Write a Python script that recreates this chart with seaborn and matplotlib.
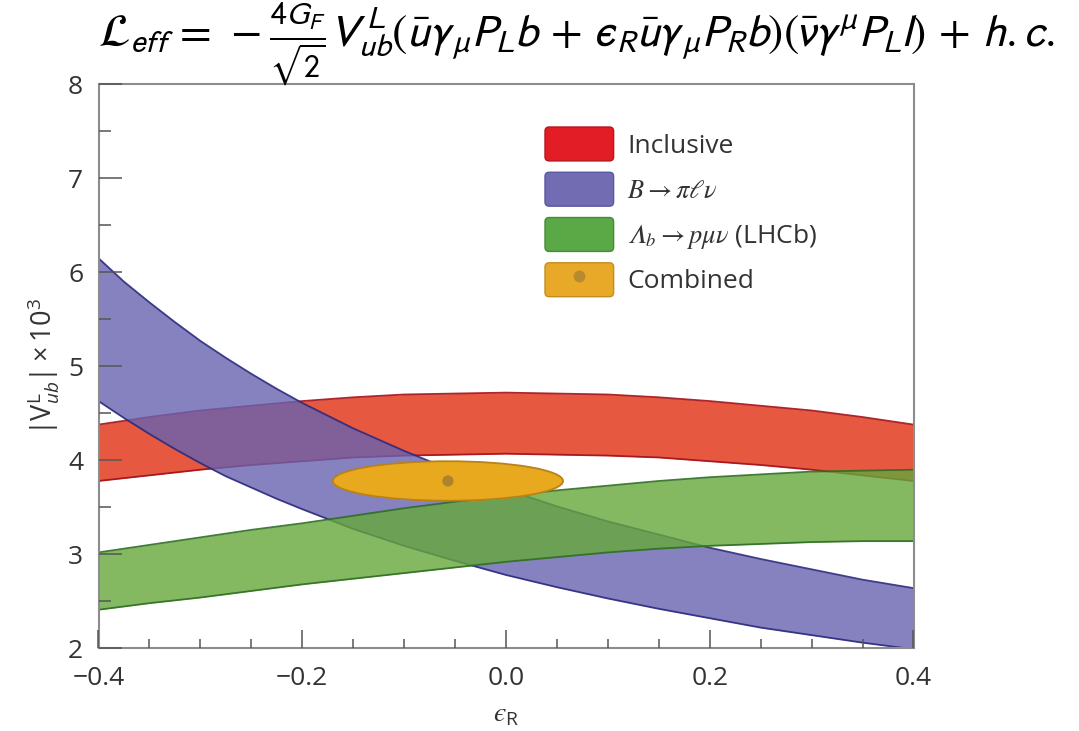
import numpy as np
import pandas as pd
import matplotlib
matplotlib.use("Agg")
import matplotlib.pyplot as plt
import seaborn as sns
from matplotlib.patches import Ellipse, Patch, FancyBboxPatch
from matplotlib.lines import Line2D
from matplotlib.legend_handler import HandlerPatch
from matplotlib.ticker import MultipleLocator, FuncFormatter

# epsilon_R grid and |V_ub^L| x 10^3 band edges
eps = [-0.40, -0.35, -0.30, -0.25, -0.20, -0.15, -0.10, -0.05, 0.00,
       0.05, 0.10, 0.15, 0.20, 0.25, 0.30, 0.35, 0.40]

incl_hi = [4.38, 4.46, 4.53, 4.58, 4.63, 4.67, 4.70, 4.71, 4.72,
           4.71, 4.70, 4.67, 4.63, 4.58, 4.53, 4.46, 4.38]
incl_lo = [3.78, 3.84, 3.90, 3.95, 3.99, 4.03, 4.05, 4.06, 4.07,
           4.06, 4.05, 4.03, 3.99, 3.95, 3.90, 3.84, 3.78]

# the B -> pi l nu band bends strongly on the left, so it is sampled finer there
eps_bpi = [-0.400, -0.375, -0.350, -0.325, -0.300, -0.275, -0.250, -0.225, -0.200,
           -0.15, -0.10, -0.05, 0.00, 0.05, 0.10, 0.15, 0.20, 0.25, 0.30, 0.35, 0.40]
bpi_hi = [6.15, 5.90, 5.68, 5.47, 5.27, 5.09, 4.92, 4.76, 4.61,
          4.34, 4.10, 3.88, 3.69, 3.51, 3.35, 3.21, 3.07, 2.95, 2.84, 2.73, 2.64]
bpi_lo = [4.63, 4.45, 4.28, 4.12, 3.97, 3.83, 3.71, 3.59, 3.48,
          3.27, 3.09, 2.93, 2.78, 2.65, 2.53, 2.42, 2.32, 2.22, 2.14, 2.06, 1.99]

lhcb_hi = [3.02, 3.10, 3.18, 3.26, 3.33, 3.41, 3.49, 3.56, 3.62,
           3.68, 3.73, 3.78, 3.82, 3.85, 3.88, 3.89, 3.90]
lhcb_lo = [2.41, 2.48, 2.54, 2.61, 2.68, 2.74, 2.80, 2.86, 2.92,
           2.97, 3.02, 3.06, 3.09, 3.11, 3.13, 3.14, 3.14]

# combined fit: best point and 1-sigma half widths
comb_center = [-0.057, 3.78]
comb_halfwidth = [0.113, 0.21]

labels = ["Inclusive", r"$B \to \pi\ell\nu$",
          "$\U0001D6EC_b \\to p\\mu\\nu$ (LHCb)", "Combined"]

sns.set_theme(style="white")
plt.rcParams["font.family"] = ["Open Sans", "DejaVu Sans"]
plt.rcParams["mathtext.fontset"] = "custom"
plt.rcParams["mathtext.rm"] = "Open Sans"
plt.rcParams["mathtext.it"] = "Open Sans:italic"
plt.rcParams["mathtext.bf"] = "Open Sans:bold"
plt.rcParams["axes.unicode_minus"] = True

df_main = pd.DataFrame({"eps": eps,
                        "incl_lo": incl_lo, "incl_hi": incl_hi,
                        "lhcb_lo": lhcb_lo, "lhcb_hi": lhcb_hi})
df_bpi = pd.DataFrame({"eps": eps_bpi, "bpi_lo": bpi_lo, "bpi_hi": bpi_hi})

fig = plt.figure(figsize=(10.79, 7.31), dpi=100)
ax = fig.add_axes([98.5 / 1079, 1 - 648.3 / 731, 815 / 1079, 564 / 731])

bands = [
    (df_main, "incl", "#E22E10", "#A3101A", 1),
    (df_bpi, "bpi", "#6862B0", "#2B2A7E", 2),
    (df_main, "lhcb", "#65A83B", "#2E6E23", 3),
]
for data, key, fill, edge, z in bands:
    ax.fill_between(data["eps"], data[f"{key}_lo"], data[f"{key}_hi"],
                    color=fill, alpha=0.8, lw=0, zorder=z)
    for side in ("lo", "hi"):
        sns.lineplot(data=data, x="eps", y=f"{key}_{side}", ax=ax, color=edge,
                     lw=1.3, alpha=0.9, zorder=z + 0.1, legend=False)

ax.add_patch(Ellipse((comb_center[0], comb_center[1]),
                     2 * comb_halfwidth[0], 2 * comb_halfwidth[1],
                     facecolor="#E8A91E", edgecolor="#B98218", lw=1.3, zorder=4))
sns.scatterplot(x=[comb_center[0]], y=[comb_center[1]], ax=ax, s=65,
                color="#B0822E", edgecolor="none", zorder=5, legend=False)

ax.set_xlim(-0.4, 0.4)
ax.set_ylim(2, 8)
ax.xaxis.set_major_locator(MultipleLocator(0.2))
ax.xaxis.set_minor_locator(MultipleLocator(0.05))
ax.yaxis.set_major_locator(MultipleLocator(1))
ax.yaxis.set_minor_locator(MultipleLocator(0.5))
ax.xaxis.set_major_formatter(FuncFormatter(
    lambda v, p: f"{v:.1f}".replace("-", "\u2212") if abs(v) > 1e-9 else "0.0"))
ax.yaxis.set_major_formatter(FuncFormatter(lambda v, p: f"{v:.0f}"))

ax.tick_params(axis="x", which="both", direction="in", bottom=True, top=False,
               color="#555555", width=1.1, labelsize=19, labelcolor="#333333", pad=13)
ax.tick_params(axis="x", which="major", length=13)
ax.tick_params(axis="x", which="minor", length=6.5)
ax.tick_params(axis="y", which="both", direction="in", left=True, right=False,
               color="#555555", width=1.1, labelsize=19, labelcolor="#333333", pad=11)
ax.tick_params(axis="y", which="major", length=16.5)
ax.tick_params(axis="y", which="minor", length=8.6)
ax.xaxis.set_zorder(10)
ax.yaxis.set_zorder(10)
for s in ax.spines.values():
    s.set_visible(True)
    s.set_color("#8C8C8C")
    s.set_linewidth(1.5)
    s.set_zorder(10)

ax.set_xlabel("$\u03f5_{\\mathrm{R}}$", fontsize=20, color="#333333")
ax.xaxis.label.set_va("center")
ax.xaxis.set_label_coords(0.5, (648.3 - 714) / 564)
ax.set_ylabel(r"$|\mathrm{V}^{\mathrm{L}}_{ub}|\times 10^3$", fontsize=19.5, color="#333333")
ax.yaxis.label.set_va("center")
ax.yaxis.set_label_coords((44 - 98.5) / 815, 1 - (367 - 84.3) / 564)

fig.text(0.534, 0.939,
         r"$\mathcal{L}_{eff}\,=\,-\frac{4G_F}{\sqrt{2}}V^L_{ub}(\bar{u}\gamma_\mu P_L b"
         "\\,+\\,\u03f5_R\\bar{u}\\gamma_\\mu P_R b)(\\bar{\\nu}\\gamma^\\mu P_L l)\\,+\\,h.c.$",
         fontsize=33, ha="center", va="center", math_fontfamily="stixsans", color="black")


class RoundPatchHandler(HandlerPatch):
    def create_artists(self, legend, orig_handle, xdescent, ydescent,
                       width, height, fontsize, trans):
        p = FancyBboxPatch((-xdescent, -ydescent), width, height,
                           boxstyle="round,pad=0,rounding_size=3",
                           facecolor=orig_handle.get_facecolor(),
                           edgecolor=orig_handle.get_edgecolor(),
                           lw=1.0, transform=trans)
        return [p]


handles = [
    Patch(facecolor="#E31D25", edgecolor="#B5161D"),
    Patch(facecolor="#726DB3", edgecolor="#5A56A0"),
    Patch(facecolor="#5AA846", edgecolor="#478A37"),
    (Patch(facecolor="#E7A927", edgecolor="#C48E1F"),
     Line2D([], [], marker="o", ls="none", ms=8.5, mfc="#B88A30", mec="none")),
]
leg = ax.legend(handles, labels, handler_map={Patch: RoundPatchHandler()},
                loc="upper left", bbox_to_anchor=(545 / 1079, 1 - 127 / 731),
                bbox_transform=fig.transFigure, frameon=False, fontsize=19,
                handlelength=2.6, handleheight=1.6, handletextpad=0.52,
                labelspacing=0.43, borderpad=0, borderaxespad=0)
for t in leg.get_texts():
    t.set_color("#333333")
for t in leg.get_texts()[1:3]:
    t.set_math_fontfamily("stix")

fig.savefig("out.png", dpi=100)
